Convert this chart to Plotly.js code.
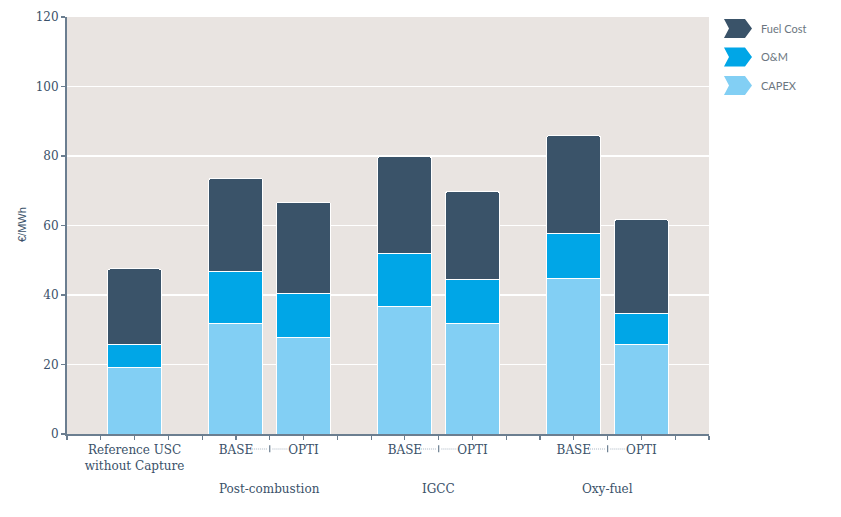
<!DOCTYPE html>
<html>
<head>
<meta charset="utf-8">
<script src="https://cdn.plot.ly/plotly-3.0.1.min.js"></script>
<style>
  html, body { margin: 0; padding: 0; background: #fff; }
  #chart { width: 841px; height: 517px; }
</style>
</head>
<body>
<div id="chart"></div>
<script>
// bar positions on the numeric x axis and their labels
const barPositions = [2, 5, 7, 10, 12, 15, 17];
const barLabels = ['Reference USC<br>without Capture', 'BASE', 'OPTI', 'BASE', 'OPTI', 'BASE', 'OPTI'];

// groups: label and the position of the BASE|OPTI separator
const groupLabels = ['Post-combustion', 'IGCC', 'Oxy-fuel'];
const groupCenters = [6, 11, 16];

// stacked values in €/MWh
const capex = [19.2, 31.7, 27.7, 36.7, 31.7, 44.7, 25.7];
const om = [6.5, 15.2, 12.8, 15.1, 12.9, 13.1, 9.0];
const fuelCost = [21.8, 26.7, 26.2, 28.0, 25.2, 28.0, 27.0];

const seriesNames = ['Fuel Cost', 'O&M', 'CAPEX'];
const seriesColors = ['#3a5369', '#00a6e7', '#82cff4'];

const TEXT_COLOR = '#3a5169';
const AXIS_COLOR = '#6b7e90';

function barTrace(values, name, color) {
    return {
        type: 'bar',
        x: barPositions,
        y: values,
        name: name,
        width: 1.6,
        marker: { color: color, line: { color: '#ffffff', width: 1 } },
        hoverinfo: 'skip',
        showlegend: false
    };
}

const traces = [
    barTrace(capex, seriesNames[2], seriesColors[2]),
    barTrace(om, seriesNames[1], seriesColors[1]),
    barTrace(fuelCost, seriesNames[0], seriesColors[0])
];

// tick labels only where a bar sits
const tickVals = [];
const tickText = [];
for (let i = 0; i <= 19; i++) {
    tickVals.push(i);
    const k = barPositions.indexOf(i);
    tickText.push(k >= 0 ? barLabels[k] : '');
}

const shapes = [];
const annotations = [];

// dotted connectors BASE ···· | ···· OPTI
groupCenters.forEach(c => {
    shapes.push({
        type: 'line', xref: 'x', yref: 'paper',
        x0: c - 0.52, x1: c - 0.08, y0: -0.036, y1: -0.036,
        line: { color: '#aab6c2', width: 1, dash: '1px,1px' }
    });
    shapes.push({
        type: 'line', xref: 'x', yref: 'paper',
        x0: c + 0.08, x1: c + 0.52, y0: -0.036, y1: -0.036,
        line: { color: '#aab6c2', width: 1, dash: '1px,1px' }
    });
    shapes.push({
        type: 'line', xref: 'x', yref: 'paper',
        x0: c, x1: c, y0: -0.027, y1: -0.044,
        line: { color: AXIS_COLOR, width: 1.2 }
    });
});

groupLabels.forEach((label, i) => {
    annotations.push({
        text: label, xref: 'x', yref: 'paper',
        x: groupCenters[i], y: -0.132,
        showarrow: false, xanchor: 'center', yanchor: 'middle',
        font: { family: 'DejaVu Serif', size: 12, color: TEXT_COLOR }
    });
});

// chevron legend drawn on the right
const px = v => (v - 67) / 642;
const py = v => (434 - v) / 417;
seriesNames.forEach((name, i) => {
    const cy = 28.5 + i * 28.5;
    const x0 = 724, x1 = 752, h = 9.5;
    const pts = [
        [x0, cy - h], [x1 - 7, cy - h], [x1, cy], [x1 - 7, cy + h],
        [x0, cy + h], [x0 + 5, cy]
    ];
    const path = 'M' + pts.map(p => px(p[0]).toFixed(5) + ',' + py(p[1]).toFixed(5)).join(' L') + ' Z';
    shapes.push({
        type: 'path', xref: 'paper', yref: 'paper', path: path,
        fillcolor: seriesColors[i], line: { width: 0 }
    });
    annotations.push({
        text: name, xref: 'paper', yref: 'paper',
        x: px(759), y: py(cy),
        showarrow: false, xanchor: 'left', yanchor: 'middle',
        font: { family: 'Lato', size: 11, color: '#6b7680' }
    });
});

// y axis title
annotations.push({
    text: '€/MWh', xref: 'paper', yref: 'paper',
    x: px(22), y: py(225), textangle: -90,
    showarrow: false, xanchor: 'center', yanchor: 'middle',
    font: { family: 'Liberation Sans', size: 11, color: TEXT_COLOR }
});

const layout = {
    width: 841,
    height: 517,
    barmode: 'stack',
    bargap: 0,
    barcornerradius: 3,
    paper_bgcolor: '#ffffff',
    plot_bgcolor: '#e9e4e1',
    margin: { l: 67, r: 132, t: 17, b: 83 },
    showlegend: false,
    xaxis: {
        range: [0, 19],
        tickvals: tickVals,
        ticktext: tickText,
        ticks: 'outside',
        ticklen: 4,
        tickwidth: 1.2,
        tickcolor: AXIS_COLOR,
        showgrid: false,
        zeroline: false,
        showline: true,
        linecolor: AXIS_COLOR,
        linewidth: 2,
        tickangle: 0,
        tickfont: { family: 'DejaVu Serif', size: 12, color: TEXT_COLOR }
    },
    yaxis: {
        range: [0, 120],
        dtick: 20,
        ticks: 'outside',
        ticklen: 4,
        tickwidth: 1.2,
        tickcolor: AXIS_COLOR,
        showgrid: true,
        gridcolor: '#ffffff',
        gridwidth: 1.2,
        zeroline: false,
        showline: true,
        linecolor: AXIS_COLOR,
        linewidth: 2,
        tickfont: { family: 'DejaVu Serif', size: 12, color: TEXT_COLOR }
    },
    shapes: shapes,
    annotations: annotations
};

Plotly.newPlot('chart', traces, layout, { displayModeBar: false, staticPlot: true });
</script>
</body>
</html>
